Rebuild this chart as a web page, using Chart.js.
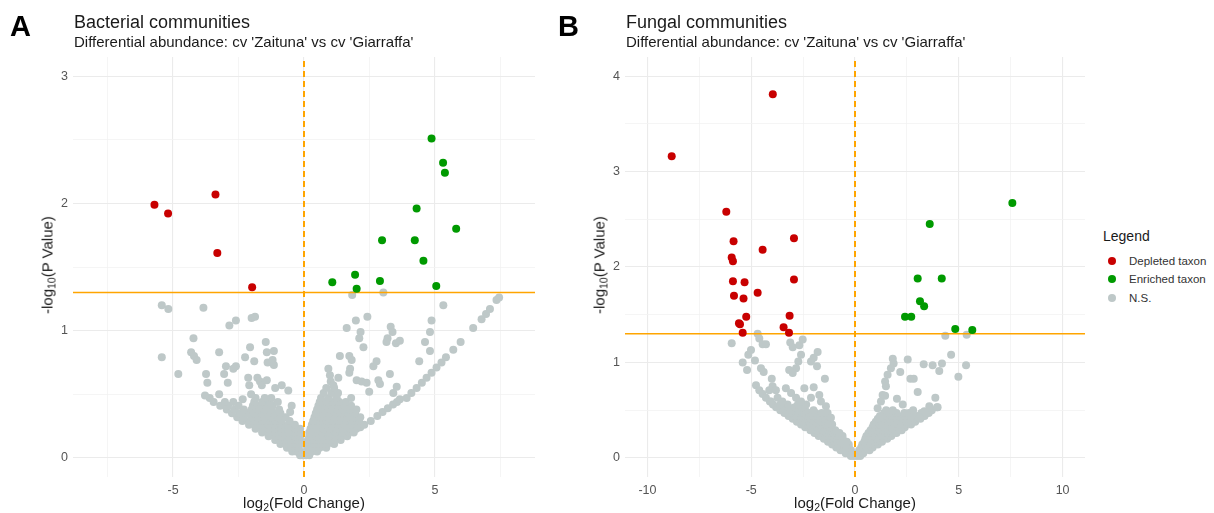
<!DOCTYPE html>
<html>
<head>
<meta charset="utf-8">
<script src="https://cdn.jsdelivr.net/npm/chart.js@4.4.1/dist/chart.umd.min.js"></script>
<style>
  body { margin: 0; background: #fff; font-family: "Liberation Sans", Arial, sans-serif; }
  #wrap { position: relative; width: 1214px; height: 513px; overflow: hidden; }
  canvas { position: absolute; top: 0; }
  .txt { position: absolute; white-space: nowrap; color: #1a1a1a; }
  .letter { font-weight: bold; font-size: 29px; line-height: 29px; color: #000; }
  .ttl { font-size: 18px; line-height: 18px; }
  .sub { font-size: 15px; line-height: 15px; }
  .axt { font-size: 15px; line-height: 15px; transform: translate(-50%, -50%); }
  .axt.rot { transform: translate(-50%, -50%) rotate(-90deg); }
  .axt sub { font-size: 10.5px; line-height: 0; vertical-align: -3px; }
  .leg-title { font-size: 14px; line-height: 14px; }
  .leg-item { font-size: 11.5px; line-height: 12px; color: #333; }
  .dot { position: absolute; width: 8px; height: 8px; border-radius: 50%; }
</style>
</head>
<body>
<div id="wrap">
  <canvas id="chartA" width="545" height="513" style="left:0px"></canvas>
  <canvas id="chartB" width="540" height="513" style="left:555px"></canvas>

  <div class="txt letter" style="left:10px;top:12px">A</div>
  <div class="txt ttl" style="left:74px;top:13px">Bacterial communities</div>
  <div class="txt sub" style="left:74px;top:34px">Differential abundance: cv 'Zaituna' vs cv 'Giarraffa'</div>
  <div class="txt axt" style="left:304px;top:502px">log<sub>2</sub>(Fold Change)</div>
  <div class="txt axt rot" style="left:47px;top:265px">-log<sub>10</sub>(P Value)</div>

  <div class="txt letter" style="left:558px;top:12px">B</div>
  <div class="txt ttl" style="left:626px;top:13px">Fungal communities</div>
  <div class="txt sub" style="left:626px;top:34px">Differential abundance: cv 'Zaituna' vs cv 'Giarraffa'</div>
  <div class="txt axt" style="left:855px;top:502px">log<sub>2</sub>(Fold Change)</div>
  <div class="txt axt rot" style="left:599px;top:265px">-log<sub>10</sub>(P Value)</div>

  <div id="legend"></div>
</div>

<script>
// ---- data ----
const seriesNames = ['Depleted taxon', 'Enriched taxon', 'N.S.'];
const seriesColors = ['#C80000', '#009A00', '#BEC8C8'];
const lineColor = '#FFA500';
const pThreshold = 1.30; // -log10(0.05)

const xTicksA = [-7.5, -5, -2.5, 0, 2.5, 5, 7.5];
const yTicksA = [0, 0.5, 1, 1.5, 2, 2.5, 3];
const xTicksB = [-10, -7.5, -5, -2.5, 0, 2.5, 5, 7.5, 10];
const yTicksB = [0, 0.5, 1, 1.5, 2, 2.5, 3, 3.5, 4];

// Bacterial communities
const depletedA = [[-5.71,1.99],[-5.19,1.92],[-3.38,2.07],[-3.31,1.61],[-1.98,1.34]];
const enrichedA = [[4.87,2.51],[5.31,2.32],[5.38,2.24],[4.30,1.96],[5.81,1.80],[2.98,1.71],[4.23,1.71],
  [4.56,1.55],[1.08,1.38],[1.95,1.44],[2.01,1.33],[2.90,1.39],[5.05,1.35]];
const nsOutlierA = [[-5.43,1.20],[-5.18,1.17],[-3.84,1.18],[-2.0,1.10],[-1.87,1.11],[-2.85,1.04],[-2.6,1.08],
  [-4.22,0.94],[-5.43,0.79],[-4.80,0.66],[-4.31,0.83],[-4.2,0.80],[-4.1,0.77],[-3.24,0.83],[-3.74,0.66],
  [-3.69,0.59],[-2.98,0.72],[-3.05,0.66],[-2.6,0.72],[-2.7,0.70],[-2.91,0.59],[-2.25,0.79],[-2.06,0.87],
  [-1.90,0.76],[-1.46,0.91],[-1.42,0.83],[-1.15,0.84],[-1.39,0.75],[-1.2,0.77],[-1.15,0.73],[-2.13,0.63],
  [-2.09,0.57],[-1.78,0.63],[-1.68,0.60],[-1.61,0.57],[-1.42,0.61],[-1.1,0.55],[-0.85,0.57],[-0.6,0.53],
  [-3.24,0.50],[-3.02,0.44],[-2.34,0.46],[-2.02,0.50],[-0.47,0.41],[-0.53,0.36],
  [1.84,1.28],[3.03,1.30],[2.42,1.11],[1.98,1.08],[1.63,1.02],[2.16,0.99],[2.11,0.94],[2.27,0.87],
  [3.31,1.03],[3.38,0.99],[3.19,0.94],[3.15,0.91],[3.51,0.90],[3.66,0.92],[5.32,1.20],[4.87,1.08],
  [4.81,0.99],[4.62,0.91],[4.81,0.84],[4.40,0.76],[1.37,0.80],[1.73,0.80],[1.82,0.77],[0.93,0.70],
  [0.99,0.65],[1.02,0.60],[1.12,0.57],[1.31,0.63],[1.76,0.70],[1.73,0.67],[2.01,0.61],[2.2,0.60],
  [2.39,0.59],[2.49,0.52],[2.77,0.76],[2.65,0.72],[2.84,0.61],[2.9,0.58],[3.28,0.66],[3.54,0.56],[3.41,0.51]];
const nsArmA = [[3.66,0.46],[3.92,0.47],[4.1,0.51],[4.30,0.55],[4.5,0.59],[4.68,0.63],[4.87,0.67],[5.06,0.71],
  [5.25,0.75],[5.42,0.79],[5.70,0.85],[5.98,0.91],[6.46,1.02],[6.78,1.09],[6.95,1.13],[7.1,1.17],[7.35,1.24],[7.45,1.26]];
const nsCoreLeftA = [[-0.15,0.02],[-0.05,0.02],
  [-0.45,0.05],[-0.3,0.05],[-0.15,0.05],
  [-0.65,0.08],[-0.5,0.08],[-0.35,0.08],[-0.2,0.08],
  [-0.9,0.11],[-0.7,0.11],[-0.5,0.11],[-0.3,0.11],[-0.15,0.11],
  [-1.1,0.14],[-0.9,0.14],[-0.7,0.14],[-0.5,0.14],[-0.3,0.14],[-0.15,0.14],
  [-1.35,0.17],[-1.1,0.17],[-0.85,0.17],[-0.6,0.17],[-0.35,0.17],[-0.15,0.17],
  [-1.6,0.2],[-1.35,0.2],[-1.1,0.2],[-0.85,0.2],[-0.6,0.2],[-0.35,0.2],[-0.15,0.2],
  [-1.85,0.23],[-1.6,0.23],[-1.35,0.23],[-1.1,0.23],[-0.85,0.23],[-0.6,0.23],[-0.35,0.23],[-0.15,0.23],
  [-2.1,0.26],[-1.85,0.26],[-1.6,0.26],[-1.35,0.26],[-1.1,0.26],[-0.85,0.26],[-0.6,0.26],[-0.35,0.26],
  [-2.35,0.29],[-2.1,0.29],[-1.85,0.29],[-1.6,0.29],[-1.35,0.29],[-1.1,0.29],[-0.85,0.29],[-0.55,0.29],
  [-2.55,0.32],[-2.3,0.32],[-2.0,0.32],[-1.75,0.32],[-1.5,0.32],[-1.25,0.32],[-1.0,0.32],[-0.7,0.32],
  [-2.75,0.35],[-2.45,0.35],[-2.15,0.35],[-1.9,0.35],[-1.65,0.35],[-1.4,0.35],[-1.15,0.35],[-0.9,0.35],
  [-2.95,0.38],[-2.65,0.38],[-2.3,0.38],[-2.0,0.38],[-1.75,0.38],[-1.5,0.38],[-1.25,0.38],[-0.95,0.38],
  [-3.2,0.41],[-2.9,0.41],[-2.5,0.41],[-1.95,0.41],[-1.7,0.41],[-1.45,0.41],[-1.2,0.41],
  [-3.45,0.44],[-2.7,0.44],[-1.9,0.44],[-1.6,0.44],[-1.3,0.44],[-1.0,0.44],
  [-3.6,0.47],[-1.85,0.47],[-1.5,0.47],[-1.25,0.47],
  [-3.78,0.49]];
const nsCoreRightA = [[0.08,0.02],[0.2,0.02],
  [0.1,0.05],[0.3,0.05],[0.5,0.05],
  [0.12,0.08],[0.35,0.08],[0.6,0.08],[0.85,0.08],
  [0.15,0.11],[0.4,0.11],[0.65,0.11],[0.9,0.11],[1.15,0.11],
  [0.15,0.14],[0.4,0.14],[0.65,0.14],[0.9,0.14],[1.15,0.14],[1.4,0.14],
  [0.2,0.17],[0.45,0.17],[0.7,0.17],[0.95,0.17],[1.2,0.17],[1.45,0.17],[1.65,0.17],
  [0.2,0.2],[0.45,0.2],[0.7,0.2],[0.95,0.2],[1.2,0.2],[1.45,0.2],[1.7,0.2],[1.9,0.2],
  [0.25,0.23],[0.5,0.23],[0.75,0.23],[1.0,0.23],[1.25,0.23],[1.5,0.23],[1.75,0.23],[2.0,0.23],[2.15,0.24],
  [0.3,0.26],[0.55,0.26],[0.8,0.26],[1.05,0.26],[1.3,0.26],[1.55,0.26],[1.8,0.26],[2.05,0.26],[2.3,0.26],
  [0.35,0.29],[0.6,0.29],[0.85,0.29],[1.1,0.29],[1.35,0.29],[1.6,0.29],[1.85,0.29],[2.1,0.29],[2.55,0.29],
  [0.4,0.32],[0.65,0.32],[0.9,0.32],[1.15,0.32],[1.4,0.32],[1.65,0.32],[1.9,0.32],[2.15,0.32],[2.8,0.33],
  [0.45,0.35],[0.7,0.35],[0.95,0.35],[1.2,0.35],[1.45,0.35],[1.7,0.35],[1.95,0.35],[3.0,0.36],
  [0.5,0.38],[0.75,0.38],[1.0,0.38],[1.25,0.38],[1.5,0.38],[1.75,0.38],[2.0,0.38],[3.2,0.39],
  [0.55,0.41],[0.8,0.41],[1.05,0.41],[1.3,0.41],[1.55,0.41],[1.8,0.41],[3.4,0.42],
  [0.6,0.44],[0.85,0.44],[1.1,0.44],[1.35,0.44],[1.6,0.44],[3.55,0.44],
  [0.65,0.47],[0.95,0.47],[1.25,0.47],[1.8,0.47],
  [0.75,0.51],[1.05,0.51],[1.3,0.51],
  [0.85,0.55],[1.15,0.55]];

// Fungal communities
const depletedB = [[-3.96,3.81],[-8.83,3.16],[-6.20,2.58],[-5.85,2.27],[-2.94,2.30],[-4.45,2.18],[-5.94,2.10],
  [-5.88,2.06],[-5.88,1.85],[-5.32,1.84],[-2.94,1.87],[-5.83,1.70],[-5.37,1.67],[-4.69,1.73],[-5.24,1.48],
  [-3.15,1.49],[-5.59,1.41],[-5.54,1.40],[-3.44,1.37],[-5.41,1.31],[-3.18,1.31]];
const enrichedB = [[7.58,2.67],[3.60,2.45],[3.02,1.88],[4.18,1.88],[3.13,1.64],[3.33,1.59],[2.41,1.48],
  [2.71,1.48],[4.83,1.35],[5.65,1.34]];
const nsOutlierB = [[-5.94,1.20],[-4.69,1.30],[-4.61,1.25],[-4.45,1.19],[-4.29,1.19],[-5.01,1.13],[-5.14,1.08],
  [-4.82,1.02],[-5.41,1.00],[-5.2,0.92],[-4.53,0.94],[-4.4,0.90],[-3.12,1.21],[-3.0,1.16],[-2.68,1.18],
  [-2.52,1.24],[-2.6,1.08],[-2.73,1.01],[-2.84,0.94],[-3.17,0.92],[-3.0,0.89],[-1.80,1.11],[-1.99,1.05],
  [-1.83,0.96],[-2.12,1.01],[-1.45,0.83],[-4.77,0.76],[-4.61,0.71],[-4.45,0.67],[-4.29,0.63],[-4.01,0.83],
  [-3.97,0.75],[-4.13,0.71],[-3.81,0.71],[-3.73,0.63],[-3.33,0.73],[-3.08,0.68],[-2.84,0.63],[-2.44,0.73],
  [-1.99,0.74],[-1.72,0.66],[-2.12,0.63],[-1.64,0.59],[-1.40,0.54],[-1.32,0.47],[-1.16,0.42],[-4.05,0.59],
  [1.82,1.04],[1.86,0.99],[1.73,0.94],[1.57,0.87],[1.45,0.80],[1.49,0.75],[1.33,0.66],[1.25,0.59],
  [1.09,0.52],[2.54,1.03],[2.18,0.90],[2.67,0.83],[2.83,0.83],[3.02,0.69],[2.02,0.62],[1.45,0.65],
  [1.82,0.50],[2.30,0.56],[2.38,0.47],[3.31,0.98],[3.74,0.97],[4.06,0.91],[4.19,0.99],[4.63,1.08],
  [4.35,1.28],[4.98,0.85],[5.35,0.97],[5.38,1.29],[3.87,0.63],[3.58,0.54],[3.98,0.53],[3.34,0.49],[3.10,0.42]];
const nsCoreLeftB = [[-0.2,0.02],[-0.05,0.02],
  [-0.45,0.05],[-0.25,0.05],[-0.1,0.05],
  [-0.7,0.08],[-0.45,0.08],[-0.2,0.08],
  [-0.9,0.11],[-0.6,0.11],[-0.3,0.11],
  [-1.1,0.14],[-0.8,0.14],[-0.5,0.14],[-0.3,0.14],
  [-1.3,0.17],[-1.0,0.17],[-0.7,0.17],[-0.4,0.17],
  [-1.5,0.2],[-1.2,0.2],[-0.9,0.2],[-0.6,0.2],
  [-1.75,0.23],[-1.45,0.23],[-1.15,0.23],[-0.85,0.23],[-0.6,0.23],
  [-1.95,0.26],[-1.65,0.26],[-1.35,0.26],[-1.05,0.26],[-0.75,0.26],
  [-2.15,0.29],[-1.85,0.29],[-1.55,0.29],[-1.25,0.29],[-0.95,0.29],
  [-2.4,0.32],[-2.1,0.32],[-1.8,0.32],[-1.5,0.32],[-1.2,0.32],
  [-2.6,0.35],[-2.3,0.35],[-2.0,0.35],[-1.7,0.35],[-1.4,0.35],[-1.1,0.35],
  [-2.8,0.38],[-2.5,0.38],[-2.2,0.38],[-1.9,0.38],[-1.6,0.38],[-1.3,0.38],
  [-3.0,0.41],[-2.7,0.41],[-2.4,0.41],[-2.1,0.41],[-1.8,0.41],[-1.5,0.41],
  [-3.2,0.44],[-2.9,0.44],[-2.6,0.44],[-2.3,0.44],[-2.0,0.44],[-1.7,0.44],[-1.45,0.44],
  [-3.4,0.47],[-3.1,0.47],[-2.8,0.47],[-2.5,0.47],[-2.2,0.47],[-1.9,0.47],[-1.6,0.47],
  [-3.6,0.5],[-3.3,0.5],[-3.0,0.5],[-2.7,0.5],[-2.4,0.5],[-2.0,0.5],
  [-3.8,0.53],[-3.5,0.53],[-3.2,0.53],[-2.9,0.53],[-2.55,0.53],
  [-3.95,0.56],[-3.6,0.56],[-3.25,0.56],[-2.75,0.56],[-2.35,0.56],
  [-4.1,0.59],[-3.5,0.59],[-2.6,0.59]];
const nsCoreRightB = [[0.1,0.02],[0.25,0.02],
  [0.15,0.05],[0.4,0.05],
  [0.2,0.08],[0.45,0.08],[0.7,0.08],
  [0.3,0.11],[0.55,0.11],[0.85,0.11],
  [0.35,0.14],[0.6,0.14],[0.9,0.14],[1.1,0.14],
  [0.45,0.17],[0.7,0.17],[0.95,0.17],[1.3,0.17],
  [0.5,0.2],[0.75,0.2],[1.05,0.2],[1.35,0.2],[1.55,0.2],
  [0.55,0.23],[0.85,0.23],[1.15,0.23],[1.45,0.23],[1.75,0.23],
  [0.65,0.26],[0.95,0.26],[1.25,0.26],[1.55,0.26],[1.85,0.26],[2.0,0.26],
  [0.75,0.29],[1.05,0.29],[1.35,0.29],[1.65,0.29],[1.95,0.29],[2.25,0.29],
  [0.85,0.32],[1.15,0.32],[1.45,0.32],[1.75,0.32],[2.05,0.32],[2.4,0.32],
  [0.9,0.35],[1.2,0.35],[1.5,0.35],[1.8,0.35],[2.1,0.35],[2.4,0.35],[2.7,0.35],
  [1.0,0.38],[1.3,0.38],[1.6,0.38],[1.9,0.38],[2.2,0.38],[2.5,0.38],[2.9,0.38],
  [1.1,0.41],[1.4,0.41],[1.7,0.41],[2.0,0.41],[2.3,0.41],[2.6,0.41],[2.9,0.41],[3.15,0.41],
  [1.2,0.44],[1.5,0.44],[1.8,0.44],[2.1,0.44],[2.4,0.44],[2.7,0.44],[3.0,0.44],[3.35,0.44],
  [1.4,0.47],[1.7,0.47],[2.0,0.47],[2.6,0.47],[3.2,0.47],[3.55,0.47],
  [1.5,0.5],[2.8,0.5],[3.7,0.5],
  [3.95,0.53]];

// ---- chart building ----
const toPts = (arr) => arr.map(([x, y]) => ({ x, y }));

function makePanel(id, cfg) {
  const pointSet = (data, color, order) => ({
    data: toPts(data),
    backgroundColor: color,
    borderWidth: 0,
    pointRadius: 4,
    pointHoverRadius: 4,
    order,
  });

  new Chart(document.getElementById(id), {
    type: 'scatter',
    data: {
      datasets: [
        pointSet(cfg.ns, seriesColors[2], 3),
        {
          // vertical reference at log2FC = 0
          data: [{ x: 0, y: cfg.yMin }, { x: 0, y: cfg.yMax }],
          showLine: true, borderColor: lineColor, borderWidth: 2, borderDash: [6, 4],
          pointRadius: 0, order: 2,
        },
        {
          // significance threshold
          data: [{ x: cfg.xMin, y: pThreshold }, { x: cfg.xMax, y: pThreshold }],
          showLine: true, borderColor: lineColor, borderWidth: 1.5,
          pointRadius: 0, order: 2,
        },
        pointSet(cfg.depleted, seriesColors[0], 1),
        pointSet(cfg.enriched, seriesColors[1], 1),
      ],
    },
    options: {
      responsive: false,
      animation: false,
      devicePixelRatio: 1,
      layout: { padding: { top: 57, right: cfg.padRight, left: 0, bottom: 0 } },
      plugins: { legend: { display: false }, tooltip: { enabled: false } },
      scales: {
        x: {
          type: 'linear', min: cfg.xMin, max: cfg.xMax,
          afterBuildTicks: (s) => { s.ticks = cfg.xTicks.map(v => ({ value: v })); },
          afterFit: (s) => { s.height = 36; },
          border: { display: false },
          grid: {
            drawTicks: false,
            color: (c) => c.tick && c.tick.value % 5 === 0 ? '#EBEBEB' : '#F3F3F3',
            lineWidth: (c) => c.tick && c.tick.value % 5 === 0 ? 1.1 : 0.8,
          },
          ticks: {
            padding: 6, color: '#555', font: { size: 12.5, family: 'Liberation Sans' },
            callback: (v) => v % 5 === 0 ? String(v) : '',
          },
        },
        y: {
          type: 'linear', min: cfg.yMin, max: cfg.yMax,
          afterBuildTicks: (s) => { s.ticks = cfg.yTicks.map(v => ({ value: v })); },
          afterFit: (s) => { s.width = cfg.yAxisWidth; },
          border: { display: false },
          grid: {
            drawTicks: false,
            color: (c) => c.tick && Number.isInteger(c.tick.value) ? '#EBEBEB' : '#F3F3F3',
            lineWidth: (c) => c.tick && Number.isInteger(c.tick.value) ? 1.1 : 0.8,
          },
          ticks: {
            padding: 5, color: '#555', font: { size: 12.5, family: 'Liberation Sans' },
            callback: (v) => Number.isInteger(v) ? String(v) : '',
          },
        },
      },
    },
  });
}

makePanel('chartA', {
  depleted: depletedA, enriched: enrichedA,
  ns: [...nsCoreLeftA, ...nsCoreRightA, ...nsArmA, ...nsOutlierA],
  xMin: -8.82, xMax: 8.82, yMin: -0.15, yMax: 3.15,
  xTicks: xTicksA, yTicks: yTicksA,
  yAxisWidth: 73, padRight: 10,
});

makePanel('chartB', {
  depleted: depletedB, enriched: enrichedB,
  ns: [...nsCoreLeftB, ...nsCoreRightB, ...nsOutlierB],
  xMin: -11.08, xMax: 11.08, yMin: -0.2, yMax: 4.2,
  xTicks: xTicksB, yTicks: yTicksB,
  yAxisWidth: 70, padRight: 10,
});

// legend (html)
const legend = document.getElementById('legend');
let html = '<div class="txt leg-title" style="left:1103px;top:229px">Legend</div>';
const legY = [261, 279, 298];
seriesNames.forEach((name, i) => {
  html += `<div class="dot" style="left:1108px;top:${legY[i] - 4}px;background:${seriesColors[i]}"></div>`;
  html += `<div class="txt leg-item" style="left:1129px;top:${legY[i] - 6}px">${name}</div>`;
});
legend.innerHTML = html;
</script>
</body>
</html>
